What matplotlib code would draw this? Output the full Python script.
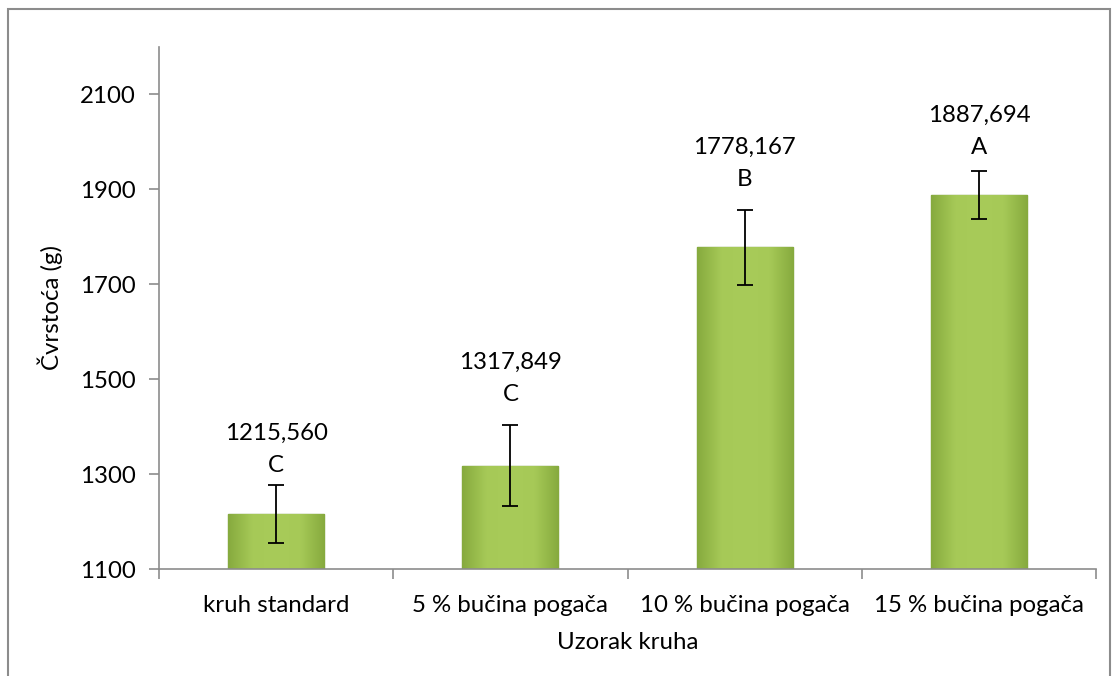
import numpy as np
import matplotlib
matplotlib.use('Agg')
import matplotlib.pyplot as plt
from matplotlib.patches import Rectangle
from matplotlib.colors import LinearSegmentedColormap

plt.rcParams['font.family'] = ['Lato', 'DejaVu Sans']

# data
categories = ['kruh standard', '5 % bučina pogača', '10 % bučina pogača', '15 % bučina pogača']
means = [1215.560, 1317.849, 1778.167, 1887.694]
errors = [61, 85, 79, 51]
letters = ['C', 'C', 'B', 'A']
value_labels = ['1215,560', '1317,849', '1778,167', '1887,694']
yticks = [1100, 1300, 1500, 1700, 1900, 2100]

# label gap above error bar (points), labels were placed by hand in the original
label_gap = [14, 22, 22, 17]

fs = 17.3

fig = plt.figure(figsize=(11.13, 6.76), dpi=100)
ax = fig.add_axes([159 / 1113, 1 - 569 / 676, (1096 - 159) / 1113, (569 - 47) / 676])

# outer chart border
fig.patches.append(Rectangle((8 / 1113, -0.05), (1110 - 8) / 1113, 1.05 - 9 / 676,
                             transform=fig.transFigure, fill=False,
                             edgecolor='#8c8c8c', linewidth=1.5))

x = np.arange(len(categories))
width = 0.41
bars = ax.bar(x, means, width, color='#9bbb59', edgecolor='#7a9a3a', linewidth=1.0, zorder=2)

# gradient fill on bars
cmap = LinearSegmentedColormap.from_list('g', ['#86aa3e', '#a6c957', '#a8cb59', '#a6c957', '#86aa3e'])
grad = np.linspace(0, 1, 256).reshape(1, -1)
for b in bars:
    x0 = b.get_x()
    im = ax.imshow(grad, cmap=cmap, aspect='auto', zorder=2.1,
                   extent=[x0, x0 + b.get_width(), 1100, b.get_height()])
    im.set_clip_path(b)

ax.errorbar(x, means, yerr=errors, fmt='none', ecolor='black', elinewidth=1.3,
            capsize=5.5, capthick=1.3, zorder=3)

for xi, m, e, v, l, g in zip(x, means, errors, value_labels, letters, label_gap):
    ax.annotate(l, (xi, m + e), xytext=(0, g), textcoords='offset points',
                ha='center', va='center', fontsize=fs)
    ax.annotate(v, (xi, m + e), xytext=(0, g + 23), textcoords='offset points',
                ha='center', va='center', fontsize=fs)

ax.set_ylim(1100, 2200)
ax.set_xlim(-0.5, len(categories) - 0.5)
ax.set_yticks(yticks)
ax.set_yticklabels([str(t) for t in yticks], fontsize=fs)
ax.set_xticks(np.arange(len(categories) + 1) - 0.5)
ax.set_xticklabels([])
ax.set_xticks(x, minor=True)
ax.set_xticklabels(categories, minor=True, fontsize=fs)
ax.tick_params(axis='x', which='minor', length=0, pad=19)
ax.tick_params(axis='x', which='major', length=7, color='#8c8c8c', width=1.2)
ax.tick_params(axis='y', length=7, color='#8c8c8c', width=1.2, pad=10)

for s in ['top', 'right']:
    ax.spines[s].set_visible(False)
for s in ['left', 'bottom']:
    ax.spines[s].set_color('#8c8c8c')
    ax.spines[s].set_linewidth(1.2)

ax.set_ylabel('Čvrstoća (g)', fontsize=fs, labelpad=12)
ax.set_xlabel('Uzorak kruha', fontsize=fs, labelpad=11)

fig.savefig('out.png', dpi=100)
